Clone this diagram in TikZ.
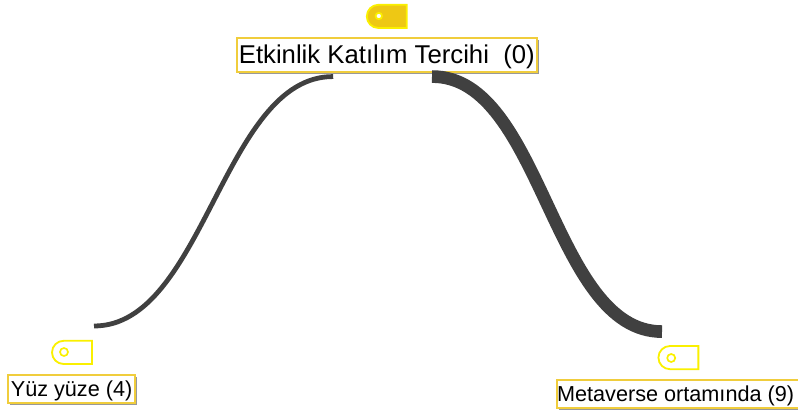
\documentclass[tikz,border=0pt]{standalone}
\usepackage{fontspec}
\setmainfont{Liberation Sans}
\usetikzlibrary{positioning,shapes.misc,shadows}
\definecolor{ptnframe}{RGB}{240,205,60}
\definecolor{ptnfill}{RGB}{238,200,20}
\definecolor{ptnyellow}{RGB}{250,240,0}
\definecolor{ptnline}{RGB}{64,64,64}
\tikzset{
  ptnlabel/.style={
    draw=ptnframe,
    fill=white,
    line width=1.1pt,
    inner sep=0pt,
    anchor=center,
    drop shadow={shadow xshift=1.6pt,shadow yshift=-1.6pt,fill=black,opacity=.4}
  },
  ptnmain/.style={ptnlabel,minimum width=7.5cm,minimum height=0.85cm,
                  text height=.5cm,text depth=.05cm,font=\fontsize{18.3}{20}\selectfont},
  ptnleaf/.style={ptnlabel,minimum height=0.7cm,
                  text height=.4cm,text depth=.05cm,font=\fontsize{15.4}{17}\selectfont},
  ptntag/.style={
    rounded rectangle,
    rounded rectangle east arc=none,
    draw=ptnyellow,
    line width=1.3pt,
    minimum width=1cm,
    minimum height=0.58cm,
    inner sep=0pt
  },
  ptnhole/.style={circle,draw=ptnyellow,line width=1.2pt,minimum size=0.2cm,inner sep=0pt},
  ptnpath/.style={ptnline,line cap=butt}
}
\begin{document}
\begin{tikzpicture}[x=1cm,y=1cm]
  \useasboundingbox (0,0) rectangle (19.95,10.3);
  % labels
  \node[ptnmain] (tercih) at (9.67,8.93) {Etkinlik Katılım Tercihi\ \ (0)};
  \node[ptnleaf,minimum width=3.17cm] (yuz) at (1.79,0.57) {Yüz yüze (4)};
  \node[ptnleaf,minimum width=6.08cm] (meta) at (16.99,0.45) {Metaverse ortamında (9)\hspace*{.2cm}};
  % tags
  \node[ptntag,fill=ptnfill] (tagtercih) at (9.67,9.89) {};
  \node[ptnhole,fill=white,minimum size=0.16cm] (holetercih) at (9.47,9.9) {};
  \node[ptntag] (tagyuz) at (1.8,1.49) {};
  \node[ptnhole] (holeyuz) at (1.6,1.5) {};
  \node[ptntag] (tagmeta) at (16.96,1.36) {};
  \node[ptnhole] (holemeta) at (16.78,1.35) {};
  % connectors
  \coordinate (endleft) at ([xshift=-1.34cm,yshift=-0.1cm]tercih.south);
  \coordinate (endright) at ([xshift=1.13cm,yshift=-0.1cm]tercih.south);
  \coordinate (endyuz) at (2.35,2.15);
  \coordinate (endmeta) at (16.55,2.01);
  \draw[ptnpath,line width=3.4pt] (endleft) ..controls (5.58,8.4) and (5.1,2.15) .. (endyuz);
  \draw[ptnpath,line width=9pt] (endright) ..controls (13.55,8.4) and (13.8,2.01) .. (endmeta);
\end{tikzpicture}
\end{document}
